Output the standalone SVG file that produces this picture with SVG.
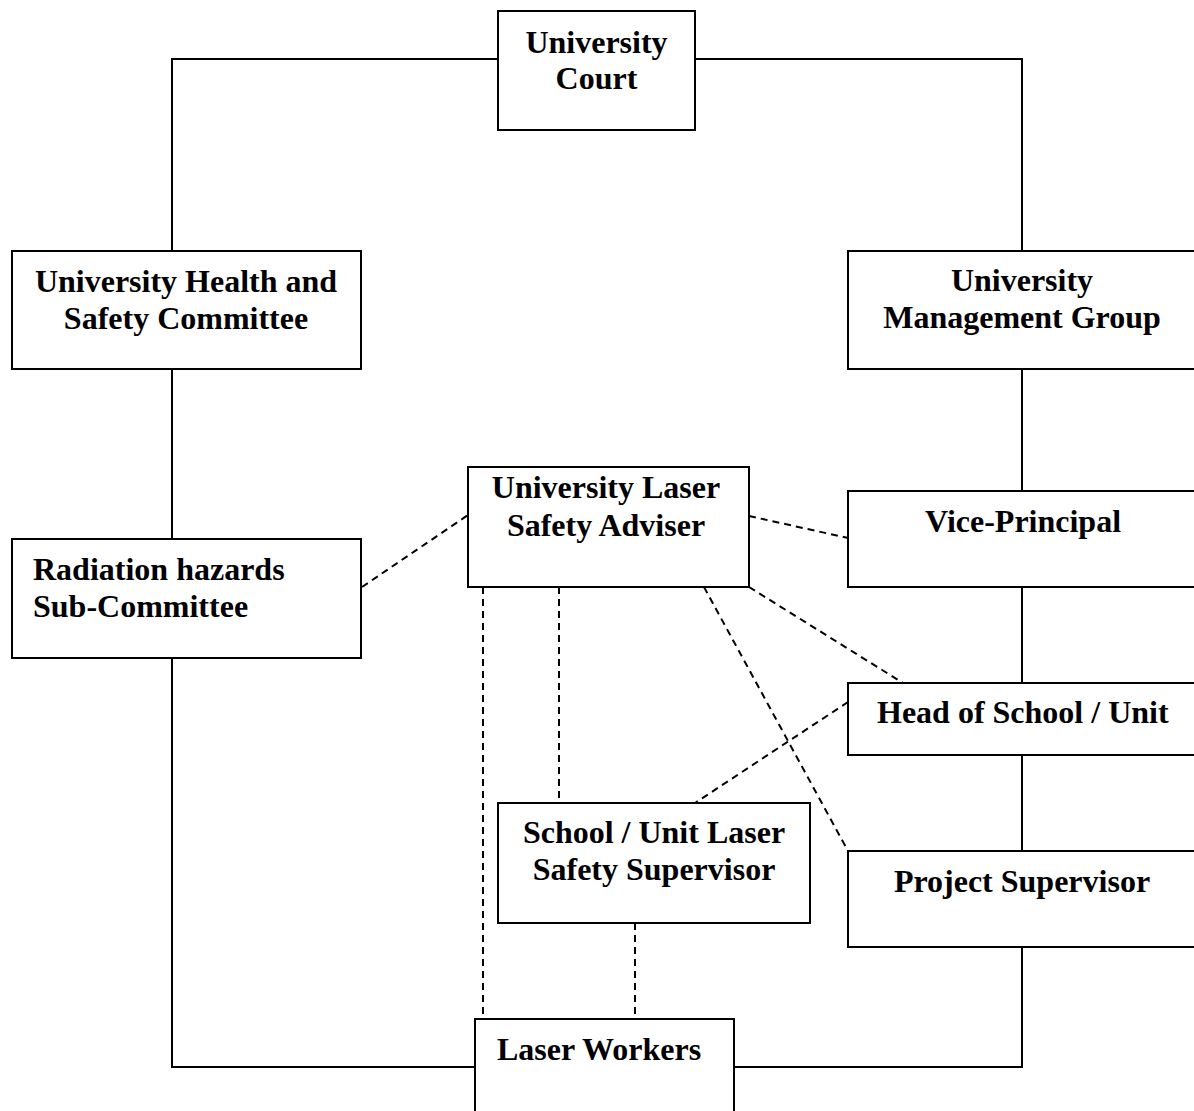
<svg xmlns="http://www.w3.org/2000/svg" width="1194" height="1111" viewBox="0 0 1194 1111">
  <style>
    .box { fill: #ffffff; stroke: #000000; stroke-width: 2; }
    .solid { fill: none; stroke: #000000; stroke-width: 2; }
    .dash { fill: none; stroke: #000000; stroke-width: 2; stroke-dasharray: 7 5; }
    .lbl { font-family: "Liberation Serif", "Times New Roman", serif; font-weight: bold; font-size: 32px; fill: #000000; }
    .c { text-anchor: middle; }
  </style>
  <rect width="1194" height="1111" fill="#ffffff"/>

  <!-- reporting lines -->
  <g id="connectors">
    <!-- solid chain of responsibility -->
    <polyline class="solid" points="172,251 172,59 498,59"/>
    <polyline class="solid" points="695,59 1022,59 1022,251"/>
    <line class="solid" x1="172" y1="369" x2="172" y2="539"/>
    <polyline class="solid" points="172,658 172,1067 475,1067"/>
    <line class="solid" x1="1022" y1="369" x2="1022" y2="491"/>
    <line class="solid" x1="1022" y1="587" x2="1022" y2="683"/>
    <line class="solid" x1="1022" y1="755" x2="1022" y2="851"/>
    <polyline class="solid" points="1022,947 1022,1067 734,1067"/>

    <!-- dashed advisory links -->
    <line class="dash" x1="362" y1="587" x2="468" y2="515"/>
    <line class="dash" x1="749" y1="516" x2="848" y2="538"/>
    <line class="dash" x1="749" y1="587" x2="903" y2="683"/>
    <line class="dash" x1="704" y1="587" x2="848" y2="851"/>
    <line class="dash" x1="848" y1="702" x2="695" y2="803"/>
    <line class="dash" x1="559" y1="587" x2="559" y2="803"/>
    <line class="dash" x1="483" y1="587" x2="483" y2="1019"/>
    <line class="dash" x1="635" y1="923" x2="635" y2="1019"/>
  </g>

  <g id="university-court">
    <rect class="box" x="498" y="11" width="197" height="119"/>
    <text class="lbl c" x="596.5" y="53">University</text>
    <text class="lbl c" x="596.5" y="89">Court</text>
  </g>

  <g id="health-safety-committee">
    <rect class="box" x="12" y="251" width="349" height="118"/>
    <text class="lbl c" x="186" y="292">University Health and</text>
    <text class="lbl c" x="186" y="329">Safety Committee</text>
  </g>

  <g id="management-group">
    <rect class="box" x="848" y="251" width="360" height="118"/>
    <text class="lbl c" x="1022" y="291">University</text>
    <text class="lbl c" x="1022" y="328">Management Group</text>
  </g>

  <g id="laser-safety-adviser">
    <rect class="box" x="468" y="467" width="281" height="120"/>
    <text class="lbl c" x="606" y="498">University Laser</text>
    <text class="lbl c" x="606" y="536">Safety Adviser</text>
  </g>

  <g id="vice-principal">
    <rect class="box" x="848" y="491" width="360" height="96"/>
    <text class="lbl c" x="1023" y="532">Vice-Principal</text>
  </g>

  <g id="radiation-subcommittee">
    <rect class="box" x="12" y="539" width="349" height="119"/>
    <text class="lbl" x="33" y="580">Radiation hazards</text>
    <text class="lbl" x="33" y="617">Sub-Committee</text>
  </g>

  <g id="head-of-school">
    <rect class="box" x="848" y="683" width="360" height="72"/>
    <text class="lbl" x="877" y="723">Head of School / Unit</text>
  </g>

  <g id="school-laser-supervisor">
    <rect class="box" x="498" y="803" width="312" height="120"/>
    <text class="lbl c" x="654" y="843">School / Unit Laser</text>
    <text class="lbl c" x="654" y="880">Safety Supervisor</text>
  </g>

  <g id="project-supervisor">
    <rect class="box" x="848" y="851" width="360" height="96"/>
    <text class="lbl c" x="1022" y="892">Project Supervisor</text>
  </g>

  <g id="laser-workers">
    <rect class="box" x="475" y="1019" width="259" height="110"/>
    <text class="lbl" x="497" y="1060">Laser Workers</text>
  </g>
</svg>
